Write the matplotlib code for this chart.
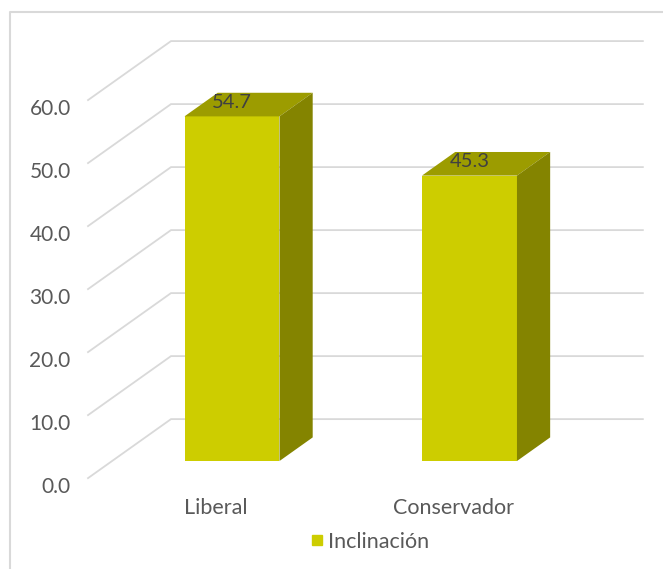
import matplotlib
matplotlib.use("Agg")
import matplotlib.pyplot as plt
from matplotlib.patches import Polygon
from matplotlib.lines import Line2D

categories = ["Liberal", "Conservador"]
values = [54.7, 45.3]
series_name = "Inclinación"
ticks = [0, 10, 20, 30, 40, 50, 60]

FRONT = "#CDCD00"
TOP = "#9C9C00"
SIDE = "#848400"
GRID = "#D9D9D9"
TEXT = "#595959"

plt.rcParams["font.family"] = ["Lato", "DejaVu Sans"]

# fake 3D: depth t runs from the front of the floor (0) to the back wall (1)
DX = 83 / 237.5      # x shift per unit depth, in category units
DY = 59 / 6.3        # y shift per unit depth, in value units
T_BAR = 0.29         # depth of the bars' front face
DEPTH = 0.40         # bar depth
WIDTH = 0.40
XL, XR = -0.505, 1.482


def proj(x, v, t):
    return x + (t - T_BAR) * DX, v + (t - T_BAR) * DY


fig = plt.figure(figsize=(6.63, 5.69), dpi=100)
ax = fig.add_axes([0, 0, 1, 1])
ax.set_xlim(-0.977, 1.815)
ax.set_ylim(-17.14, 73.17)
ax.axis("off")

# side wall diagonals and back wall gridlines
for v in ticks:
    x0, y0 = proj(XL, v, 0)
    x1, y1 = proj(XL, v, 1)
    x2, y2 = proj(XR, v, 1)
    ax.plot([x0, x1, x2], [y0, y1, y2], color=GRID, lw=1.3, zorder=1,
            solid_joinstyle="miter")
    ax.annotate(f"{v:.1f}", (x0, y0), xytext=(-12.5, -6.5),
                textcoords="offset points", ha="right", va="center",
                fontsize=15, color=TEXT)

xs = list(range(len(categories)))
ax.bar(xs, values, width=WIDTH, color=FRONT, zorder=3)

for x, v in zip(xs, values):
    l, r = x - WIDTH / 2, x + WIDTH / 2
    top = [proj(l, v, T_BAR), proj(r, v, T_BAR),
           proj(r, v, T_BAR + DEPTH), proj(l, v, T_BAR + DEPTH)]
    side = [proj(r, 0, T_BAR), proj(r, v, T_BAR),
            proj(r, v, T_BAR + DEPTH), proj(r, 0, T_BAR + DEPTH)]
    ax.add_patch(Polygon(top, closed=True, fc=TOP, ec="none", zorder=3))
    ax.add_patch(Polygon(side, closed=True, fc=SIDE, ec="none", zorder=3))
    ax.annotate(f"{v:.1f}", (x, v), xytext=(0, 10), textcoords="offset points",
                ha="center", va="center", fontsize=14.5, color="#404040",
                zorder=4)

for x, name in zip(xs, categories):
    lx, ly = proj(x, 0, 0.1)
    ax.annotate(name, (lx, ly), xytext=(0, -26), textcoords="offset points",
                ha="center", va="center", fontsize=15.5, color=TEXT)

handle = Line2D([], [], marker="s", ls="none", color=FRONT, markersize=7.5)
fig.legend([handle], [series_name], loc="center", bbox_to_anchor=(0.556, 0.048),
           frameon=False, fontsize=15.5, labelcolor=TEXT, handletextpad=0.1,
           handlelength=0.8)

# chart area border
fig.add_artist(Line2D([0.0151, 0.0151, 1.0], [0.0, 0.979, 0.979],
                      transform=fig.transFigure, color=GRID, lw=1.5))

fig.savefig("out.png", dpi=100)
